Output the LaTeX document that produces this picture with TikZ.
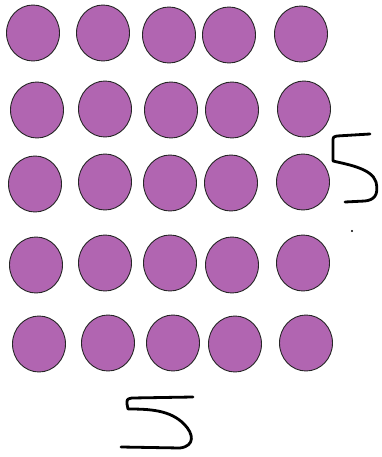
\documentclass[tikz,border=0pt]{standalone}
\usetikzlibrary{shapes.geometric}
\begin{document}
\begin{tikzpicture}[x=1pt,y=-1pt,
  dotc/.style={ellipse, draw=black!85, line width=0.9pt, fill=dotpurple, minimum width=53pt, minimum height=56pt, inner sep=0pt},
  hand/.style={line width=2.8pt, line cap=round, line join=round, black}]
\definecolor{dotpurple}{RGB}{177,101,177}
\useasboundingbox (0,0) rectangle (381,457);
% row 1
\node[dotc] (a1) at (33,33) {};
\node[dotc] (a2) at (103,33) {};
\node[dotc] (a3) at (169,35) {};
\node[dotc] (a4) at (229,35) {};
\node[dotc] (a5) at (301,34) {};
% row 2
\node[dotc] (b1) at (37,110) {};
\node[dotc] (b2) at (105,109) {};
\node[dotc] (b3) at (171,110) {};
\node[dotc] (b4) at (232,110) {};
\node[dotc] (b5) at (304,109) {};
% row 3
\node[dotc] (c1) at (35,184) {};
\node[dotc] (c2) at (105,182) {};
\node[dotc] (c3) at (170,183) {};
\node[dotc] (c4) at (231,183) {};
\node[dotc] (c5) at (303,182) {};
% row 4
\node[dotc] (d1) at (36,265) {};
\node[dotc] (d2) at (105,263) {};
\node[dotc] (d3) at (170,263) {};
\node[dotc] (d4) at (232,265) {};
\node[dotc] (d5) at (303,263) {};
% row 5
\node[dotc] (e1) at (39,344) {};
\node[dotc] (e2) at (108,343) {};
\node[dotc] (e3) at (173,343) {};
\node[dotc] (e4) at (235,344) {};
\node[dotc] (e5) at (306,343) {};
% right hand-drawn 5
\draw[hand] (370,134) -- (337,136) .. controls (333,137) .. (333,142) -- (333,161)
  .. controls (345,164) and (372,168) .. (376,182)
  .. controls (379,195) and (374,200) .. (365,201) -- (345,202);
\fill (352,231) circle (1.1pt);
% bottom hand-drawn 5
\draw[hand] (193,397) -- (132,398) .. controls (127,399) .. (127,404) -- (128,409)
  .. controls (150,409) and (170,410) .. (184,424)
  .. controls (194,434) and (195,446) .. (180,448) -- (121,447);
\end{tikzpicture}
\end{document}
